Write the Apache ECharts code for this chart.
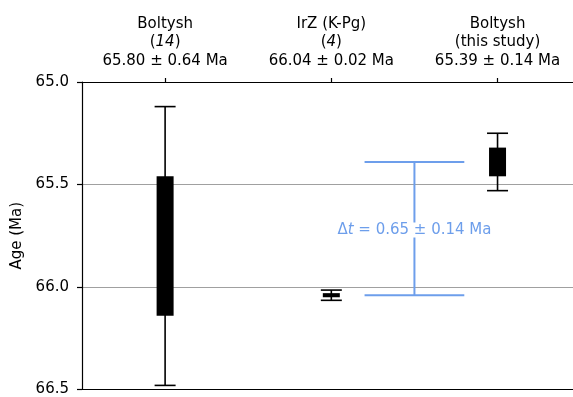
<!DOCTYPE html>
<html><head><meta charset="utf-8">
<script src="https://cdn.jsdelivr.net/npm/echarts@6/dist/echarts.min.js"></script>
<style>html,body{margin:0;padding:0;background:#fff}#c{width:573px;height:397px}</style>
</head><body><div id="c"></div>
<script>
// ---- data ----
const categories = ['Boltysh (14)', 'IrZ (K-Pg) (4)', 'Boltysh (this study)'];
const categoryPos = [1, 2, 3];
const labelName = ['Boltysh', 'IrZ (K-Pg)', 'Boltysh'];
const labelRef = ['14', '4', null];            // italic reference numbers
const labelNote = [null, null, 'this study'];
const labelAge = ['65.80 ± 0.64 Ma', '66.04 ± 0.02 Ma', '65.39 ± 0.14 Ma'];
const whiskerTop = [65.12, 66.015, 65.25];
const boxTop = [65.46, 66.03, 65.32];
const boxBottom = [66.14, 66.05, 65.46];
const whiskerBottom = [66.48, 66.065, 65.53];
const deltaPos = [2.5];
const deltaHalfWidth = [0.3];
const deltaAges = [65.39, 66.04];
const deltaLabel = ['Δ', 't', ' = 0.65 ± 0.14 Ma'];
const yTicks = [65.0, 65.5, 66.0, 66.5];
const xRange = [0.5, 3.454];

const FONT = 'DejaVu Sans';
const BLUE = '#6d9eeb';

const barData = categories.map((c, i) => [categoryPos[i], whiskerTop[i], boxTop[i], boxBottom[i], whiskerBottom[i]]);
const deltaData = [[deltaPos[0], deltaAges[0], deltaAges[1], deltaHalfWidth[0]]];

const labelFor = v => {
  const i = categoryPos.indexOf(Math.round(v));
  if (i < 0) return '';
  const l2 = labelRef[i] ? '{n|(}{i|' + labelRef[i] + '}{n|)}' : '{n|(' + labelNote[i] + ')}';
  return '{n|' + labelName[i] + '}\n' + l2 + '\n{n|' + labelAge[i] + '}';
};

const chart = echarts.init(document.getElementById('c'));
chart.setOption({
  animation: false,
  backgroundColor: '#fff',
  grid: { left: 82, top: 82, right: 0, bottom: 4, show: false },
  xAxis: [{
    type: 'value', position: 'top', min: xRange[0], max: xRange[1],
    splitLine: { show: false },
    axisLine: { show: true, onZero: false, lineStyle: { color: '#000', width: 1.2 } },
    axisTick: { show: true, customValues: categoryPos, length: 4, lineStyle: { color: '#000', width: 1.2 } },
    axisLabel: {
      margin: 12, customValues: categoryPos, showMinLabel: true, showMaxLabel: true,
      formatter: labelFor,
      rich: {
        n: { fontFamily: FONT, fontSize: 15, color: '#000', lineHeight: 18.5 },
        i: { fontFamily: FONT, fontSize: 15, color: '#000', fontStyle: 'italic', lineHeight: 18.5 }
      }
    }
  }, {
    type: 'value', position: 'bottom', min: xRange[0], max: xRange[1],
    splitLine: { show: false },
    axisLine: { show: true, onZero: false, lineStyle: { color: '#000', width: 1.2 } },
    axisTick: { show: false }, axisLabel: { show: false }
  }],
  yAxis: {
    type: 'value', inverse: true, min: yTicks[0], max: yTicks[yTicks.length - 1], interval: 0.5,
    name: 'Age (Ma)', nameLocation: 'middle', nameGap: 52,
    nameTextStyle: { fontFamily: FONT, fontSize: 15, color: '#000' },
    axisLine: { show: true, onZero: false, lineStyle: { color: '#000', width: 1.2 } },
    axisTick: { show: true, length: 5, lineStyle: { color: '#000', width: 1.2 } },
    axisLabel: { margin: 13, fontFamily: FONT, fontSize: 15, color: '#000', formatter: v => v.toFixed(1) },
    splitLine: { show: true, showMinLine: false, showMaxLine: false, lineStyle: { color: '#a0a0a0', width: 1 } }
  },
  series: [{
    type: 'custom', xAxisIndex: 0,
    encode: { x: 0, y: [1, 2, 3, 4] },
    data: barData,
    renderItem: (params, api) => {
      const x = api.value(0);
      const p1 = api.coord([x, api.value(1)]);
      const p2 = api.coord([x, api.value(2)]);
      const p3 = api.coord([x, api.value(3)]);
      const p4 = api.coord([x, api.value(4)]);
      const cx = p1[0], capW = 21, boxW = 17;
      const st = { stroke: '#000', lineWidth: 1.6 };
      return { type: 'group', children: [
        { type: 'line', shape: { x1: cx, y1: p1[1], x2: cx, y2: p4[1] }, style: st },
        { type: 'line', shape: { x1: cx - capW / 2, y1: p1[1], x2: cx + capW / 2, y2: p1[1] }, style: st },
        { type: 'line', shape: { x1: cx - capW / 2, y1: p4[1], x2: cx + capW / 2, y2: p4[1] }, style: st },
        { type: 'rect', shape: { x: cx - boxW / 2, y: p2[1], width: boxW, height: p3[1] - p2[1] }, style: { fill: '#000' } }
      ]};
    }
  }, {
    type: 'custom', xAxisIndex: 0,
    encode: { x: 0, y: [1, 2] },
    data: deltaData,
    renderItem: (params, api) => {
      const x = api.value(0), hw = api.value(3);
      const a = api.coord([x, api.value(1)]);
      const b = api.coord([x, api.value(2)]);
      const l = api.coord([x - hw, api.value(1)])[0];
      const r = api.coord([x + hw, api.value(1)])[0];
      const mx = a[0];
      const st = { stroke: BLUE, lineWidth: 2 };
      return { type: 'group', children: [
        { type: 'line', shape: { x1: mx, y1: a[1], x2: mx, y2: b[1] }, style: st },
        { type: 'line', shape: { x1: l, y1: a[1], x2: r, y2: a[1] }, style: st },
        { type: 'line', shape: { x1: l, y1: b[1], x2: r, y2: b[1] }, style: st },
        { type: 'text', x: mx, y: (a[1] + b[1]) / 2 + 1.5, z2: 10, style: {
          text: '{n|' + deltaLabel[0] + '}{i|' + deltaLabel[1] + '}{n|' + deltaLabel[2] + '}',
          align: 'center', verticalAlign: 'middle', backgroundColor: '#fff', padding: [0, 0],
          rich: {
            n: { fontFamily: FONT, fontSize: 15, fill: BLUE, color: BLUE },
            i: { fontFamily: FONT, fontSize: 15, fill: BLUE, color: BLUE, fontStyle: 'italic' }
          }
        } }
      ]};
    }
  }]
});
</script>
</body></html>
